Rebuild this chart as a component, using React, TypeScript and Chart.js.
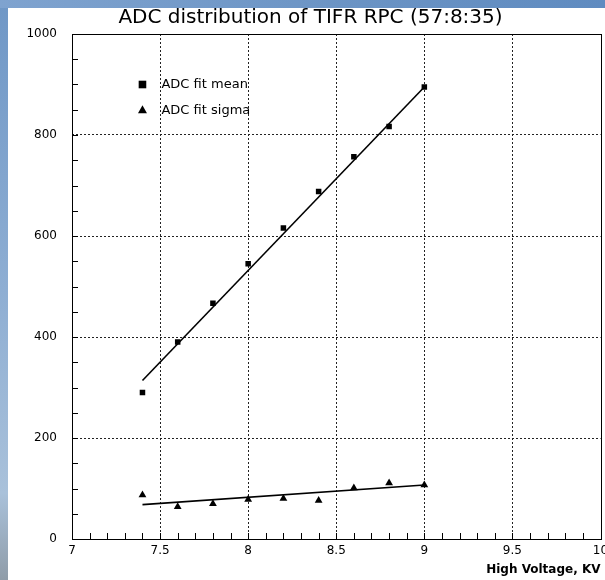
import React, { useEffect, useRef } from 'react';
import { Chart, registerables } from 'chart.js';

Chart.register(...registerables);

const voltages = [7.4, 7.6, 7.8, 8.0, 8.2, 8.4, 8.6, 8.8, 9.0];
const meanADC = [290, 390, 467, 545, 616, 688, 757, 817, 895];
const sigmaADC = [87, 64, 70, 78, 80, 76, 101, 111, 107];
const fitX = [7.4, 9.0];
const meanFit = [314, 895];
const sigmaFit = [68, 107];
const xTicks = [7, 7.5, 8, 8.5, 9, 9.5, 10];
const yTicks = [0, 200, 400, 600, 800, 1000];
const xMinorStep = 0.1;
const yMinorStep = 50;
const legendLabels = ['ADC fit mean', 'ADC fit sigma'];
const titleText = 'ADC distribution of TIFR RPC (57:8:35)';
const xTitle = 'High Voltage, KV';

const FONT = "'DejaVu Sans', 'Liberation Sans', sans-serif";

const framePlugin = {
  id: 'frameTicks',
  afterDraw(chart: any) {
    const { ctx, chartArea: a, scales } = chart;
    const xs = scales.x;
    const ys = scales.y;
    ctx.save();
    ctx.strokeStyle = '#000';
    ctx.lineWidth = 1;
    ctx.setLineDash([]);
    ctx.strokeRect(Math.round(a.left) + 0.5, Math.round(a.top) + 0.5, Math.round(a.right - a.left), Math.round(a.bottom - a.top));
    ctx.beginPath();
    const nx = Math.round((xs.max - xs.min) / xMinorStep);
    for (let i = 1; i < nx; i++) {
      const v = xs.min + i * xMinorStep;
      const px = Math.round(xs.getPixelForValue(v)) + 0.5;
      ctx.moveTo(px, a.bottom);
      ctx.lineTo(px, a.bottom - 6);
    }
    const ny = Math.round((ys.max - ys.min) / yMinorStep);
    for (let i = 1; i < ny; i++) {
      const v = ys.min + i * yMinorStep;
      const py = Math.round(ys.getPixelForValue(v)) + 0.5;
      ctx.moveTo(a.left, py);
      ctx.lineTo(a.left + 6, py);
    }
    ctx.stroke();
    ctx.restore();
  },
};

const legendPlugin = {
  id: 'innerLegend',
  afterDraw(chart: any) {
    const { ctx } = chart;
    const xs = chart.scales.x;
    const ys = chart.scales.y;
    ctx.save();
    ctx.font = `13px ${FONT}`;
    ctx.textBaseline = 'middle';
    ctx.textAlign = 'left';
    ctx.fillStyle = '#000';
    const mx = xs.getPixelForValue(7.4);
    const rows = [
      { y: ys.getPixelForValue(900), style: 'rect', r: 3.8 },
      { y: ys.getPixelForValue(850), style: 'triangle', r: 4.5 },
    ];
    rows.forEach((row, i) => {
      ctx.fillStyle = '#000';
      ctx.beginPath();
      if (row.style === 'rect') {
        ctx.fillRect(mx - row.r, row.y - row.r, row.r * 2, row.r * 2);
      } else {
        ctx.moveTo(mx, row.y - row.r);
        ctx.lineTo(mx + row.r, row.y + row.r * 0.8);
        ctx.lineTo(mx - row.r, row.y + row.r * 0.8);
        ctx.closePath();
        ctx.fill();
      }
      ctx.fillText(legendLabels[i], mx + 19, row.y + 0.5);
    });
    ctx.restore();
  },
};

export default function App() {
  const ref = useRef<HTMLCanvasElement | null>(null);

  useEffect(() => {
    if (!ref.current) return;
    const chart = new Chart(ref.current, {
      type: 'scatter',
      data: {
        datasets: [
          {
            label: 'mean fit',
            data: fitX.map((x, i) => ({ x, y: meanFit[i] })),
            showLine: true,
            borderColor: '#000',
            borderWidth: 1.6,
            pointRadius: 0,
            order: 2,
          },
          {
            label: 'sigma fit',
            data: fitX.map((x, i) => ({ x, y: sigmaFit[i] })),
            showLine: true,
            borderColor: '#000',
            borderWidth: 1.6,
            pointRadius: 0,
            order: 2,
          },
          {
            label: legendLabels[0],
            data: voltages.map((x, i) => ({ x, y: meanADC[i] })),
            pointStyle: 'rect',
            pointRadius: 3.9,
            backgroundColor: '#000',
            borderColor: '#000',
            borderWidth: 0,
            order: 1,
          },
          {
            label: legendLabels[1],
            data: voltages.map((x, i) => ({ x, y: sigmaADC[i] })),
            pointStyle: 'triangle',
            pointRadius: 4.5,
            backgroundColor: '#000',
            borderColor: '#000',
            borderWidth: 0,
            order: 1,
          },
        ],
      },
      options: {
        animation: false,
        responsive: false,
        maintainAspectRatio: false,
        events: [],
        layout: { padding: { left: 18, right: 2, top: 0, bottom: 0 } },
        plugins: {
          legend: { display: false },
          tooltip: { enabled: false },
          title: {
            display: true,
            text: titleText,
            color: '#000',
            font: { family: FONT, size: 20, weight: 'normal' },
            padding: { top: 6, bottom: 4 },
          },
        },
        scales: {
          x: {
            type: 'linear',
            min: 7,
            max: 10,
            afterBuildTicks: (s: any) => {
              s.ticks = xTicks.map((v) => ({ value: v }));
            },
            afterFit: (s: any) => {
              s.height = 41;
              s.paddingLeft = 0;
              s.paddingRight = 0;
            },
            ticks: {
              color: '#000',
              font: { family: FONT, size: 12 },
              padding: 5,
              maxRotation: 0,
              autoSkip: false,
              callback: (v: any) => String(v),
            },
            grid: {
              drawTicks: false,
              color: (c: any) => (c.tick && (c.tick.value === 7 || c.tick.value === 10) ? 'rgba(0,0,0,0)' : '#222'),
              lineWidth: 1,
            },
            border: { display: false, dash: [2, 2] },
            title: {
              display: true,
              text: xTitle,
              align: 'end',
              color: '#000',
              font: { family: FONT, size: 12, weight: 'bold' },
              padding: { top: 0, bottom: 3 },
            },
          },
          y: {
            type: 'linear',
            min: 0,
            max: 1000,
            afterBuildTicks: (s: any) => {
              s.ticks = yTicks.map((v) => ({ value: v }));
            },
            afterFit: (s: any) => {
              s.width = 54;
              s.paddingTop = 0;
              s.paddingBottom = 0;
            },
            ticks: {
              color: '#000',
              font: { family: FONT, size: 12 },
              padding: 15,
              autoSkip: false,
              callback: (v: any) => String(v),
            },
            grid: {
              drawTicks: false,
              color: (c: any) => (c.tick && (c.tick.value === 0 || c.tick.value === 1000) ? 'rgba(0,0,0,0)' : '#222'),
              lineWidth: 1,
            },
            border: { display: false, dash: [2, 2] },
          },
        },
      },
      plugins: [framePlugin, legendPlugin],
    } as any);
    return () => chart.destroy();
  }, []);

  return (
    <div
      style={{
        position: 'absolute',
        left: 0,
        top: 0,
        width: 605,
        height: 580,
        overflow: 'hidden',
        background: 'linear-gradient(to bottom, #6f97c6 0%, #8eaed3 50%, #a9c1da 85%, #8f9ca8 100%)',
      }}
    >
      <div style={{ position: 'absolute', left: 0, top: 0, width: 605, height: 8, background: 'linear-gradient(to right, #7fa3cf, #6a93c4 60%, #5f8bc0)' }} />
      <div style={{ position: 'absolute', left: 8, top: 8, width: 597, height: 572, background: '#fff' }} />
      <canvas ref={ref} width={605} height={580} style={{ position: 'absolute', left: 0, top: 0, width: 605, height: 580 }} />
    </div>
  );
}
